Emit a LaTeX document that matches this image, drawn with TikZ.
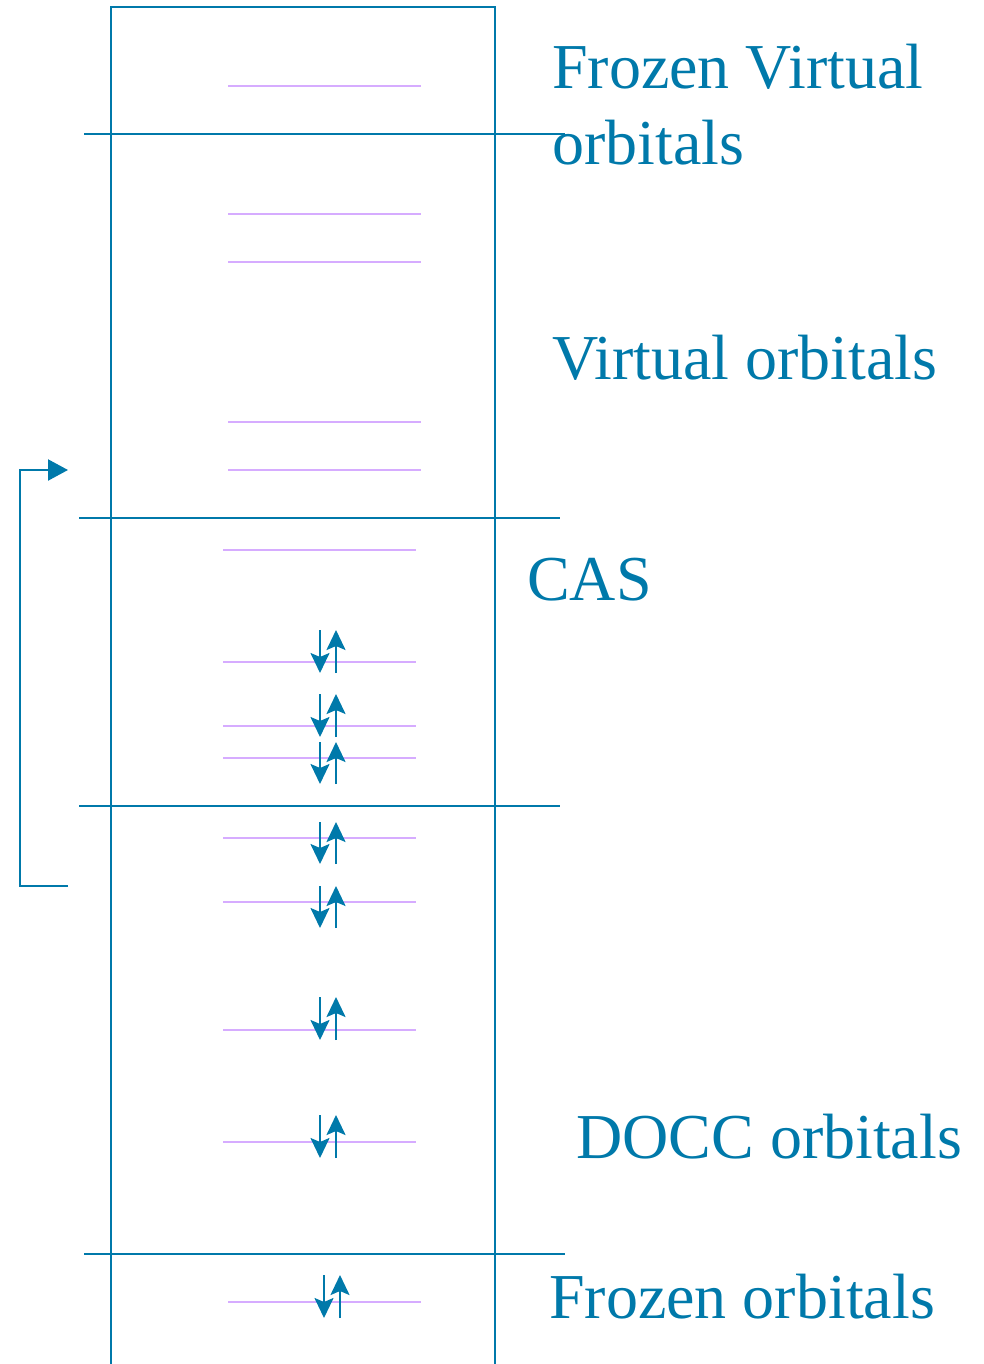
\documentclass[tikz,border=0pt]{standalone}
\usepackage{fontspec}
\setmainfont{Liberation Serif}
\usetikzlibrary{arrows.meta}
\definecolor{cblue}{RGB}{0,121,170}
\definecolor{lilac}{RGB}{214,172,255}
\begin{document}
\begin{tikzpicture}[x=1pt,y=-1pt,
    wall/.style={cblue,line width=2.2pt},
    level/.style={lilac,line width=2.2pt},
    spin/.style={cblue,line width=2.2pt,-{Stealth[length=20pt,width=19pt,inset=4pt]}},
    lbl/.style={cblue,anchor=base west,inner sep=0pt,font=\fontsize{64}{70}\selectfont}]
    \useasboundingbox (0,0) rectangle (983,1364);
    % orbital column
    \draw[wall] (111,1364)--(111,7)--(495,7)--(495,1364);
    \draw[wall] (84,134)--(565,134) (79,518)--(560,518)
                (79,806)--(560,806) (84,1254)--(565,1254);
    % energy levels
    \foreach \y in {86,214,262,422,470,1302}
        \draw[level] (228,\y)--(421,\y);
    \foreach \y in {550,662,726,758,838,902,1030,1142}
        \draw[level] (223,\y)--(416,\y);
    % electron pairs
    \foreach \x/\t/\b in {320/630/673,320/694/737,320/742/784,320/822/864,
                          320/886/928,320/997/1040,320/1115/1158,324/1275/1318}{
        \draw[spin] (\x,\t)--(\x,\b);
        \draw[spin] (\x+16,\b)--(\x+16,\t);
    }
    % labels
    \node[lbl] (fzv)  at (552,89)   {Frozen Virtual};
    \node[lbl] (fzv2) at (552,165)  {orbitals};
    \node[lbl] (virt) at (552,379)  {Virtual orbitals};
    \node[lbl] (cas)  at (527,600)  {CAS};
    \node[lbl] (docc) at (576,1158) {DOCC orbitals};
    \node[lbl] (frz)  at (549,1318) {Frozen orbitals};
    % rotation docc -> virtual
    \coordinate (from) at (68,886);
    \coordinate (to) at (68,470);
    \draw[wall,-{Triangle[length=20pt,width=21pt]}] (from)-|(20,678)|-(to);
\end{tikzpicture}
\end{document}
